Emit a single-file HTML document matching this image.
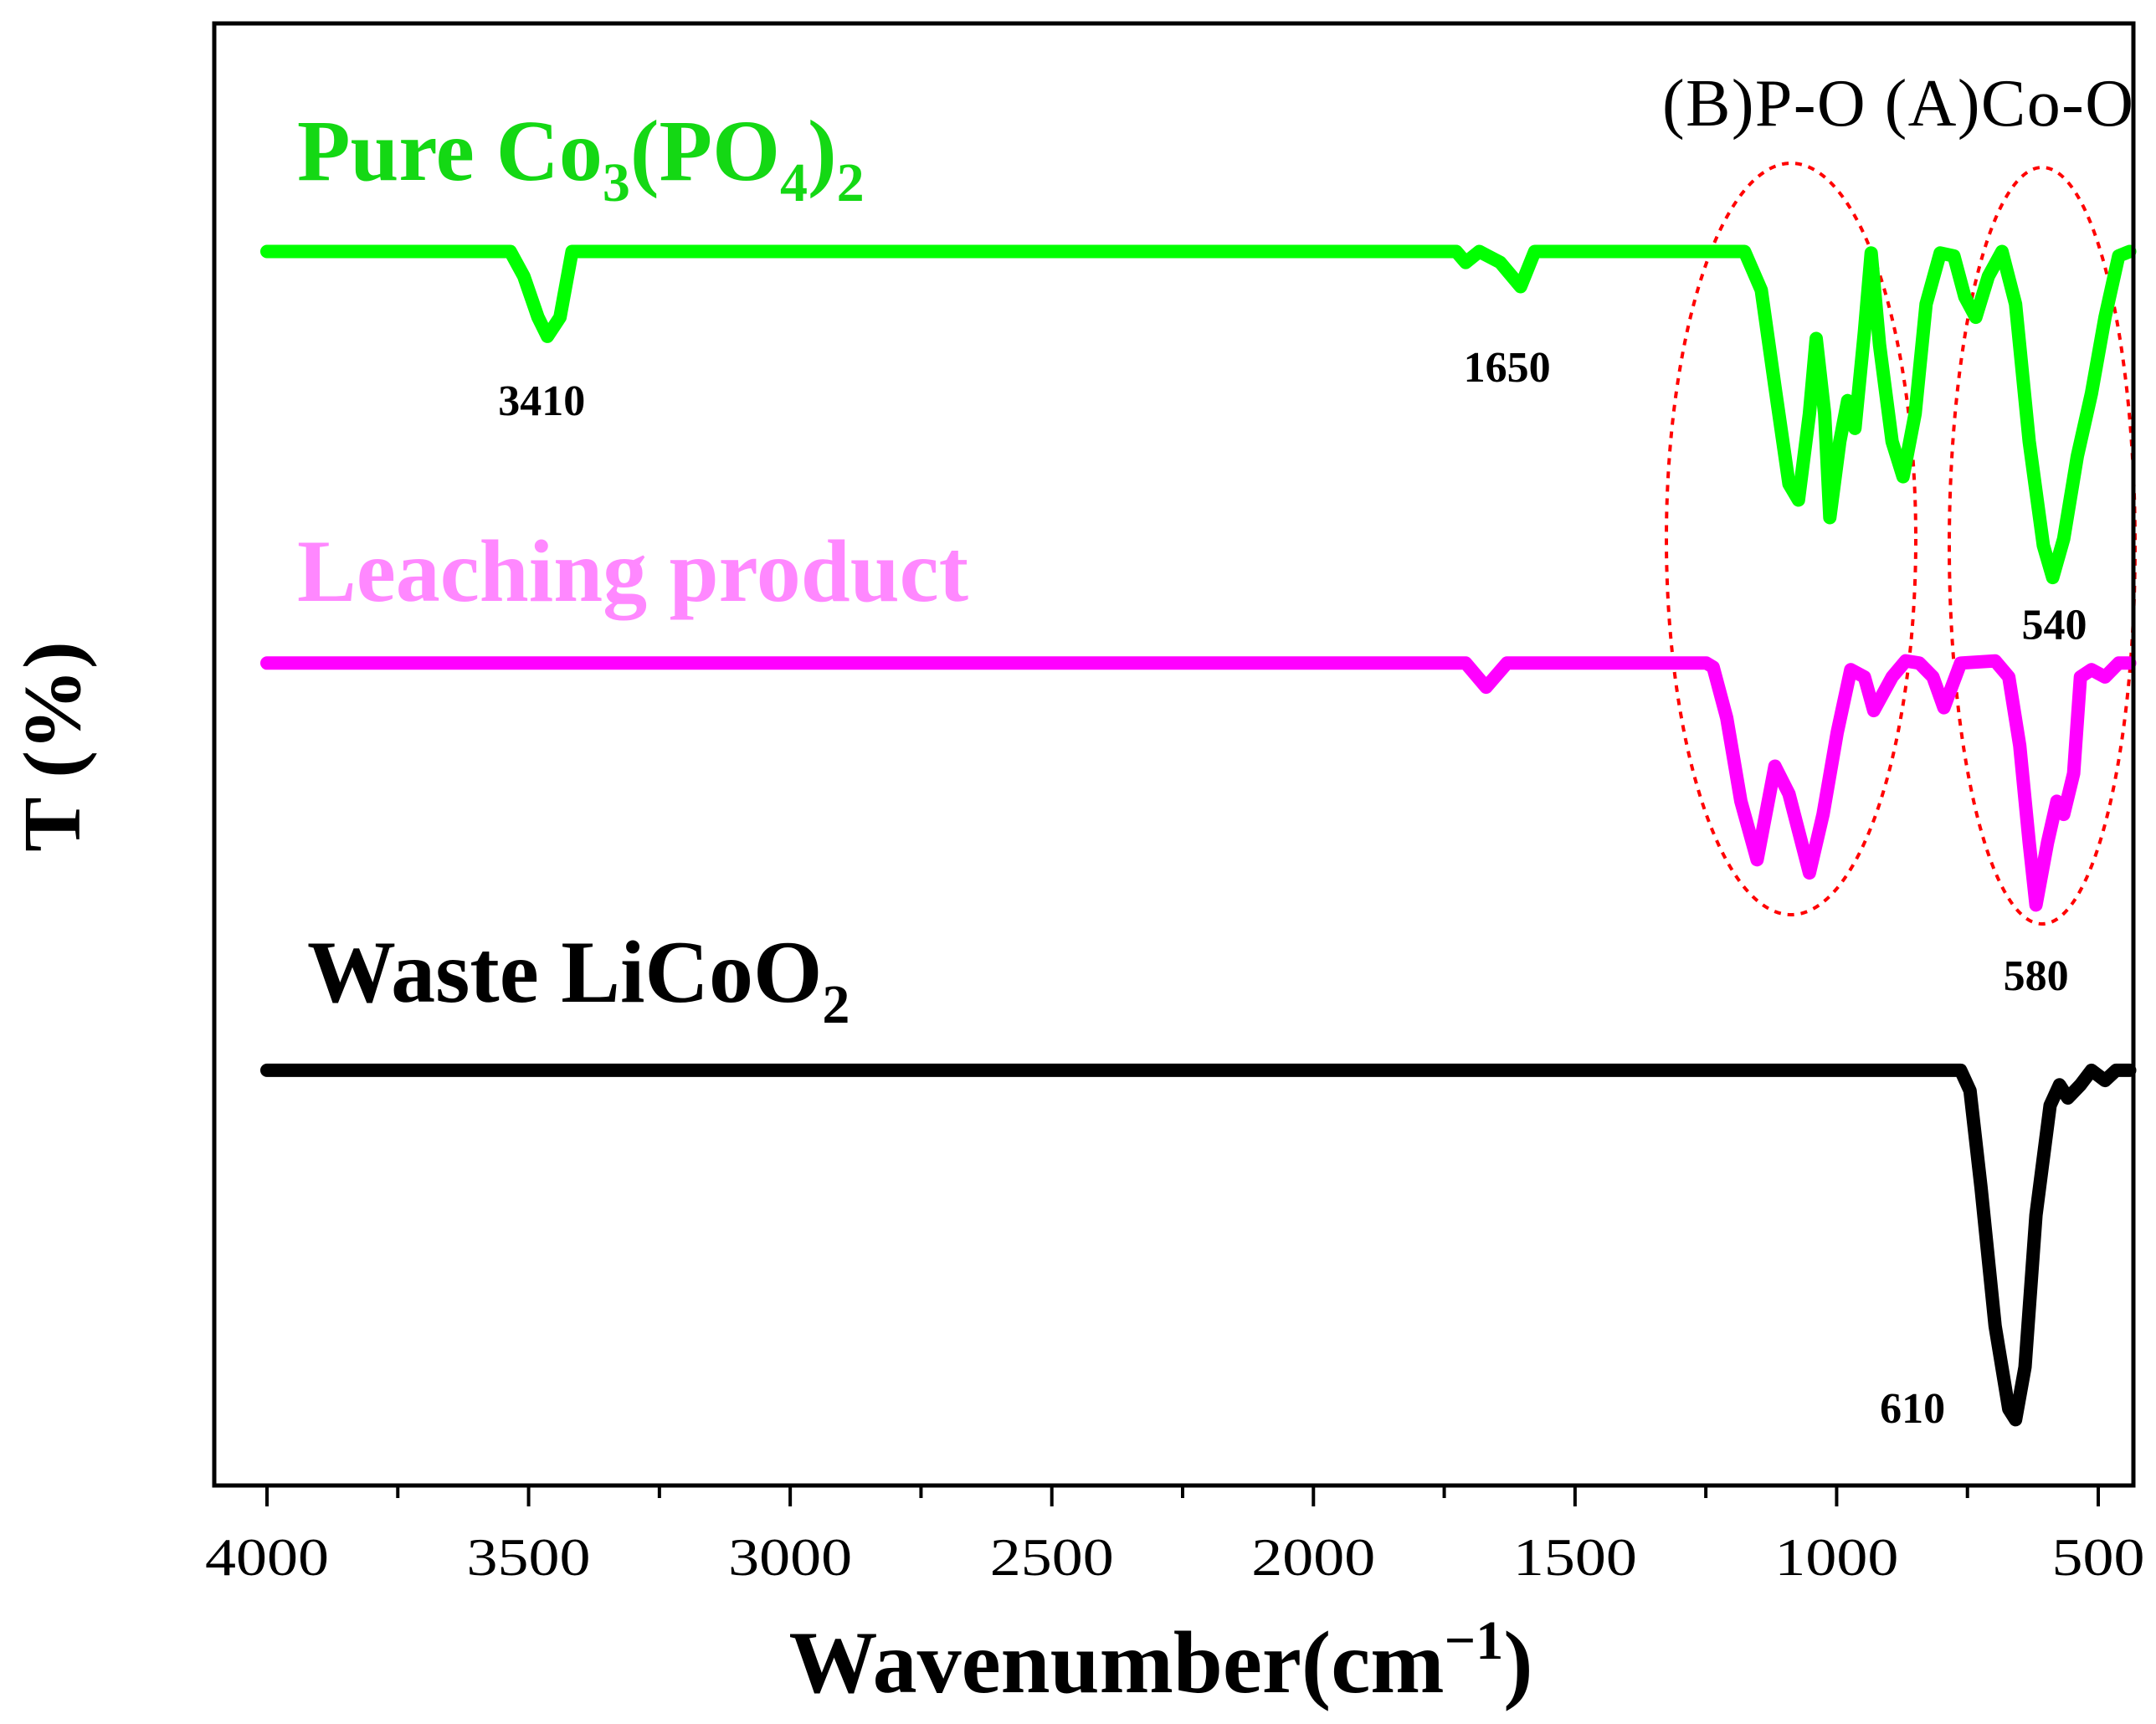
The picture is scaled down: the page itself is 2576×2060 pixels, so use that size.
<!DOCTYPE html>
<html><head><meta charset="utf-8"><style>
html,body{margin:0;padding:0;background:#fff;}
svg{display:block;}
text{font-family:"Liberation Serif",serif;}
</style></head>
<body>
<svg id="chart" width="2576" height="2060" viewBox="0 0 2576 2060" xmlns="http://www.w3.org/2000/svg">
<rect width="2576" height="2060" fill="#fff"/>
<g id="plot"></g>
<rect x="256" y="28" width="2293" height="1747" fill="none" stroke="#000" stroke-width="5"/>
<g id="xaxis"></g>
<text x="1387" y="2022" font-size="106" font-weight="bold" text-anchor="middle">Wavenumber(cm<tspan font-size="66" dy="-40">−1</tspan><tspan dy="40">)</tspan></text>
<text transform="translate(95,892) rotate(-90)" font-size="98" font-weight="bold" text-anchor="middle">T (%)</text>
<text x="355" y="215" font-size="104" font-weight="bold" fill="#14d814">Pure Co<tspan font-size="66" dy="25">3</tspan><tspan dy="-25">(PO</tspan><tspan font-size="66" dy="25">4</tspan><tspan dy="-25">)</tspan><tspan font-size="66" dy="25">2</tspan></text>
<text x="355" y="718" font-size="106" font-weight="bold" fill="#ff88ff">Leaching product</text>
<text x="367" y="1197" font-size="106" font-weight="bold" fill="#000">Waste LiCoO<tspan font-size="66" dy="25">2</tspan></text>
<text x="1986" y="150" font-size="80" fill="#000" textLength="563">(B)P-O (A)Co-O</text>
<g id="annot"></g>
</svg>
<script>
// ---- data ----
const greenWn = [4000,3535,3509,3482,3464,3440,3417,1727,1709,1683,1643,1604,1577,1176,1144,1118,1091,1073,1052,1039,1023,1013,994,979,965,947,934,918,894,873,850,829,802,776,755,734,710,684,658,632,605,587,566,540,513,487,461,440];
const greenT  = [84.4,84.4,82.7,79.9,78.6,79.9,84.4,84.4,83.65,84.4,83.65,82.0,84.4,84.4,81.76,75.15,68.5,67.4,73.3,78.45,73.3,66.2,71.4,74.2,72.3,78.9,84.3,78.0,71.4,69.0,73.3,80.8,84.3,84.1,81.3,79.9,82.7,84.4,80.8,71.4,64.3,62.1,64.75,70.4,74.7,79.9,84.1,84.4];
const pinkWn = [4000,1709,1670,1630,1249,1236,1210,1183,1152,1118,1091,1052,1026,999,973,947,929,894,868,842,816,795,763,697,671,650,632,619,597,579,566,547,534,513,487,461,440];
const pinkT  = [56.25,56.25,54.6,56.25,56.25,55.97,52.5,46.8,42.8,49.2,47.3,41.9,45.9,51.5,55.8,55.3,53.0,55.3,56.4,56.25,55.3,53.2,56.25,56.4,55.3,50.6,43.97,39.7,43.97,46.8,45.9,48.7,55.3,55.8,55.3,56.25,56.25];
const blackWn = [4000,763,745,724,697,671,658,640,619,592,574,558,534,513,487,466,440];
const blackT  = [28.4,28.4,27.0,20.35,10.9,5.23,4.5,8.1,18.5,26.0,27.4,26.5,27.4,28.4,27.7,28.4,28.4];
const tickMajor = [4000,3500,3000,2500,2000,1500,1000,500];
const tickMinor = [3750,3250,2750,2250,1750,1250,750];
const peakWn = [3475,1630,584,619,855];
const peakLabelT = [73.2,75.5,57.9,33.9,4.3];
const peakText = ["3410","1650","540","580","610"];

// ---- axis functions ----
const X0=319, XPER=2188/3500;
function xs(w){return X0+(4000-w)*XPER;}
function ys(t){return 1775-t/100*1747;}
const NS="http://www.w3.org/2000/svg";
const plot=document.getElementById('plot');

function drawSeries(wn,t,color,name){
  const p=document.createElementNS(NS,'polyline');
  p.setAttribute('points',wn.map((w,i)=>xs(w).toFixed(1)+','+ys(t[i]).toFixed(1)).join(' '));
  p.setAttribute('fill','none');p.setAttribute('stroke',color);
  p.setAttribute('stroke-width','16');p.setAttribute('stroke-linejoin','round');p.setAttribute('stroke-linecap','round');
  
  
  plot.appendChild(p);
}
[[2140,644,149,449,'ellipse-b-po'],[2440,652,111,452,'ellipse-a-coo']].forEach(e=>{
  const el=document.createElementNS(NS,'ellipse');
  el.setAttribute('cx',e[0]);el.setAttribute('cy',e[1]);el.setAttribute('rx',e[2]);el.setAttribute('ry',e[3]);
  el.setAttribute('fill','none');el.setAttribute('stroke','#ff0000');el.setAttribute('stroke-width','4');el.setAttribute('stroke-dasharray','8 8');
  
  
  plot.appendChild(el);
});
drawSeries(greenWn,greenT,'#00ff00','series-pure-co3po42');
drawSeries(pinkWn,pinkT,'#ff00ff','series-leaching-product');
drawSeries(blackWn,blackT,'#000000','series-waste-licoo2');

const xa=document.getElementById('xaxis');
tickMajor.forEach(w=>{
  const l=document.createElementNS(NS,'line');
  l.setAttribute('x1',xs(w));l.setAttribute('x2',xs(w));l.setAttribute('y1',1775);l.setAttribute('y2',1800);
  l.setAttribute('stroke','#000');l.setAttribute('stroke-width','4');
  
  
  xa.appendChild(l);
  const t=document.createElementNS(NS,'text');
  t.setAttribute('x',xs(w));t.setAttribute('y',1882);t.setAttribute('font-size','64');t.setAttribute('text-anchor','middle');
  t.setAttribute('textLength', String(w).length*37);
  t.setAttribute('lengthAdjust','spacingAndGlyphs');
  t.textContent=String(w);
  
  
  xa.appendChild(t);
});
tickMinor.forEach(w=>{
  const l=document.createElementNS(NS,'line');
  l.setAttribute('x1',xs(w));l.setAttribute('x2',xs(w));l.setAttribute('y1',1775);l.setAttribute('y2',1790);
  l.setAttribute('stroke','#000');l.setAttribute('stroke-width','4');
  
  
  xa.appendChild(l);
});
const an=document.getElementById('annot');
peakWn.forEach((w,i)=>{
  const t=document.createElementNS(NS,'text');
  t.setAttribute('x',xs(w));t.setAttribute('y',ys(peakLabelT[i]));t.setAttribute('font-size','52');
  t.setAttribute('font-weight','bold');t.setAttribute('text-anchor','middle');
  t.textContent=peakText[i];
  
  
  an.appendChild(t);
});
</script>
</body></html>
